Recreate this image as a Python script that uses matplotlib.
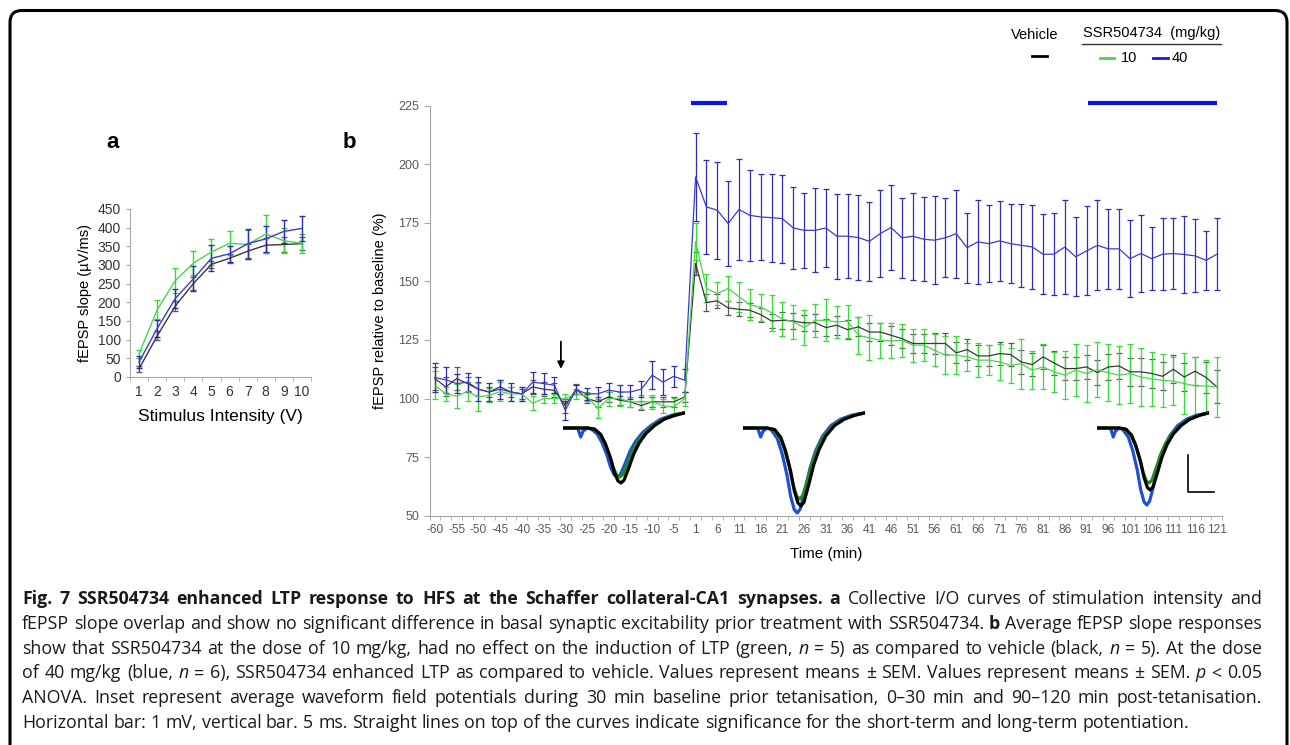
import numpy as np
import matplotlib
matplotlib.use('Agg')
import matplotlib.pyplot as plt
from matplotlib.patches import FancyBboxPatch

W, H = 1290, 745

# ---- panel a: input/output curves ----
io_volts = ['1', '2', '3', '4', '5', '6', '7', '8', '9', '10']
io_veh = [22, 110, 190, 250, 302, 318, 337, 353, 355, 357]
io_veh_sem = [8, 12, 13, 18, 10, 12, 18, 20, 20, 18]
io_10 = [62, 180, 258, 305, 335, 358, 355, 383, 365, 358]
io_10_sem = [10, 25, 33, 33, 35, 32, 38, 50, 33, 25]
io_40 = [40, 130, 210, 263, 318, 330, 357, 370, 390, 398]
io_40_sem = [17, 22, 25, 33, 35, 22, 40, 35, 30, 33]

# ---- panel b: LTP time course (one category every 2.5 min) ----
time_labels = ['-60', '-55', '-50', '-45', '-40', '-35', '-30', '-25', '-20', '-15', '-10', '-5',
               '1', '6', '11', '16', '21', '26', '31', '36', '41', '46', '51', '56', '61', '66',
               '71', '76', '81', '86', '91', '96', '101', '106', '111', '116', '121']

veh_mean = [108.5, 105, 108.5, 106.4, 104, 102.8, 105, 102.8, 102, 105, 104, 103.5,
            97, 104, 100, 98.6, 100.7, 99.3, 98.6, 97, 98.6, 98.6, 98.6, 100.7,
            157.6, 141, 141.7, 138.7, 138.1, 137.7, 135.8, 133.1, 133.4, 133.1, 132.3, 132.4,
            130.3, 131.3, 129.4, 130.6, 128.4, 128.4, 127, 125.6, 123.5, 123.5, 123.5, 123.5,
            119.5, 120.9, 118.2, 118.2, 119.2, 118.8, 115.6, 114.5, 117.8, 115.2, 112.8, 112.8,
            113.5, 111.1, 113.5, 113.9, 111.4, 111.4, 110.7, 109.5, 112.5, 109.2, 111.7, 109, 105]
veh_sem = [5, 4, 5, 3, 3, 2, 3, 2, 2, 3, 3, 3, 3, 2, 2, 2, 2, 2, 2, 2, 2, 2, 2, 2,
           5, 3.5, 3, 3, 3, 3, 3, 3, 3.5, 3.5, 3.5, 3.5, 3.5, 4, 4, 4, 4, 4, 4, 4, 4, 4,
           4.5, 4.5, 4.5, 4.5, 4.5, 4.5, 5, 5, 5, 5, 5, 5, 5, 5, 5, 5.5, 5.5, 5.5,
           6, 6, 6, 6, 6, 6, 6, 6.5, 7]

ssr10_mean = [105.7, 102, 101, 103, 100.7, 101.4, 103, 102, 102, 98, 100, 100,
              100, 102, 101, 95.7, 100, 100, 98.6, 98.6, 98.6, 97, 96.4, 100,
              167, 147, 144.8, 147, 143.4, 140, 139, 136.6, 134, 132.7, 130.3, 133.4,
              133.4, 132.7, 133, 127, 125.9, 124.9, 124.6, 124.9, 122.8, 122.8, 120.6, 118.5,
              118.5, 117.8, 116.4, 116.4, 115.6, 114.2, 114.9, 112.1, 113.5, 111.4, 110, 112.1,
              110.7, 112.4, 111, 110, 110.7, 109.2, 108.4, 107.8, 107.4, 106.4, 105.4, 105.4, 105]
ssr10_sem = [6, 3, 5, 4, 6, 3, 4, 3, 3, 3, 2, 2, 2, 2, 2, 4, 3, 3, 2, 3, 3, 3, 4, 3,
             8, 6, 4.8, 5.5, 6.3, 6.6, 5.8, 7.6, 7.3, 7.1, 7.6, 7.1, 8.9, 6.8, 7.1, 7.8,
             9.6, 7.5, 7.5, 7.1, 7.1, 6.8, 6.8, 8.2, 8.2, 6, 7.1, 6.4, 7.5, 7.5, 10.7, 8.2,
             9.6, 8.5, 10.3, 11, 12.1, 11.9, 12.1, 12.4, 12.4, 12.3, 11.4, 11.4, 10.3, 13.2,
             12.4, 11, 12.8]

ssr40_mean = [109, 108, 106.4, 107, 104, 102.8, 104, 102.8, 102, 107, 106.4, 105.7,
              95, 103.8, 102, 102, 103.6, 102.8, 102.8, 104, 110, 107, 109.5, 107.8,
              194.6, 181.8, 180.4, 174.7, 180.7, 178.2, 177.5, 177.2, 176.8, 172.8, 171.8, 171.8,
              172.8, 169.3, 169.3, 168.7, 167.1, 170.4, 173, 168.6, 169.3, 168, 167.6, 168.6,
              170.4, 164.4, 166.9, 166.1, 167.3, 166.1, 165.4, 164.7, 161.6, 161.6, 164.7, 160.5,
              163, 165.4, 163.9, 163.9, 159.7, 161.9, 159.7, 161.6, 161.9, 161.5, 160.9, 159, 161.6]
ssr40_sem = [6, 5.5, 4, 4, 5, 4, 4, 4, 3, 4.5, 4.5, 3.5, 4, 2, 2.5, 3, 3, 3, 3, 3.5, 6, 5.5, 4.5, 5,
             18.8, 19.9, 20.7, 18, 21.5, 19.4, 18.4, 18.8, 18.8, 17.6, 15.9, 17.9, 16.6, 18.1,
             17.9, 18.1, 16.9, 18.5, 18, 17.1, 18.6, 17.9, 18.8, 16.9, 18.8, 14.9, 17.8, 16.5,
             17, 16.9, 17.6, 18.1, 17.1, 17.4, 20, 16.9, 19, 19.2, 17, 17.1, 16.5, 16.3, 13.4,
             15.4, 15.3, 16.5, 15.6, 12.6, 15.4]

# significance bars (category units) and arrow position
sig_spans = [(23.6, 26.9), (60.1, 72.0)]
arrow_cat = 11.6

# average waveforms (normalised: time 0..1, trough = -1)
wave_t = np.array([0, 0.2, 0.26, 0.31, 0.35, 0.39, 0.42, 0.45, 0.475, 0.5,
                   0.54, 0.58, 0.625, 0.68, 0.75, 0.83, 0.92, 1.0])
wave_v = np.array([0, 0, -0.02, -0.12, -0.3, -0.55, -0.8, -0.96, -1, -0.95,
                   -0.72, -0.47, -0.27, -0.1, 0.03, 0.11, 0.16, 0.19])
notch_t = [0, 0.12, 0.145, 0.165, 0.2]
notch_px = [0, 0, -9, -3, 0]
wave_depth = {'veh': [55, 78, 62], 'ssr10': [49, 71, 55], 'ssr40': [49, 85, 77]}
inset_left = [563, 743, 1097]
inset_width = [122, 122, 112]

c_black, c_green, c_blue = '#383838', '#47d847', '#3b3bcc'
c_black_err, c_green_err, c_blue_err = '#5a5a5a', '#35dc35', '#2d2db8'

plt.rcParams['font.family'] = ['Liberation Sans', 'DejaVu Sans']
fig = plt.figure(figsize=(W / 100, H / 100), dpi=100)


def fa(x0, y0, x1, y1):
    return [x0 / W, 1 - y1 / H, (x1 - x0) / W, (y1 - y0) / H]


# overlay in pixel coordinates for frame, legend, caption
ov = fig.add_axes([0, 0, 1, 1])
ov.set_xlim(0, W)
ov.set_ylim(H, 0)
ov.axis('off')
ov.add_patch(FancyBboxPatch((10, 10.5), 1277, 800, boxstyle='round,pad=0,rounding_size=12',
                            fc='none', ec='black', lw=2.2, clip_on=False))
ov.text(113, 143, 'a', fontsize=16, fontweight='bold', ha='center', va='center')
ov.text(349, 143, 'b', fontsize=16, fontweight='bold', ha='center', va='center')

# legend
ov.text(1035, 35, 'Vehicle', fontsize=10.5, ha='center', va='center')
ov.plot([1032, 1047], [56, 56], color='black', lw=2)
ov.text(1152, 33, 'SSR504734  (mg/kg)', fontsize=10.5, ha='center', va='center')
ov.plot([1082, 1221], [44, 44], color='#333333', lw=1)
ov.plot([1100, 1114], [58, 58], color=c_green, lw=2)
ov.text(1121, 58, '10', fontsize=10.5, ha='left', va='center')
ov.plot([1153, 1168], [58, 58], color='#1a1ad6', lw=2)
ov.text(1172, 58, '40', fontsize=10.5, ha='left', va='center')

# ---- panel a ----
axa = fig.add_axes(fa(130, 209, 311, 377))
xa = np.arange(1, len(io_volts) + 1)
for m, s, c, ce in [(io_veh, io_veh_sem, c_black, c_black_err),
                    (io_10, io_10_sem, c_green, c_green_err),
                    (io_40, io_40_sem, c_blue, c_blue_err)]:
    axa.errorbar(xa, m, yerr=s, color=c, ecolor=ce, lw=1, elinewidth=1, capsize=2.5, capthick=1)
axa.set_xlim(0.5, 10.5)
axa.set_ylim(0, 450)
axa.set_yticks(np.arange(0, 451, 50))
axa.set_xticks(xa)
axa.set_xticklabels(io_volts)
axa.set_xticks(np.arange(0.5, 10.6, 1), minor=True)
axa.tick_params(axis='x', which='major', length=0, labelsize=10, labelcolor='#333333', pad=6)
axa.tick_params(axis='x', which='minor', length=3, color='#a6a6a6')
axa.tick_params(axis='y', length=3, color='#a6a6a6', labelsize=10, labelcolor='#333333')
for sp in ['top', 'right']:
    axa.spines[sp].set_visible(False)
for sp in ['left', 'bottom']:
    axa.spines[sp].set_color('#a6a6a6')
axa.set_xlabel('Stimulus Intensity (V)', fontsize=12.5, labelpad=7)
axa.set_ylabel('fEPSP slope (µV/ms)', fontsize=10.5, labelpad=4)

# ---- panel b ----
axb = fig.add_axes(fa(429.5, 105.7, 1222.3, 515.7))
xb = np.arange(len(veh_mean))
for m, s, c, ce in [(veh_mean, veh_sem, c_black, c_black_err),
                    (ssr10_mean, ssr10_sem, c_green, c_green_err),
                    (ssr40_mean, ssr40_sem, c_blue, c_blue_err)]:
    axb.errorbar(xb, m, yerr=s, color=c, ecolor=ce, lw=0.9, elinewidth=0.9,
                 capsize=2.2, capthick=0.9)
axb.set_xlim(-0.5, len(veh_mean) - 0.5)
axb.set_ylim(50, 225)
axb.set_yticks(np.arange(50, 226, 25))
axb.set_xticks(xb[::2])
axb.set_xticklabels(time_labels)
axb.set_xticks(np.arange(-0.5, len(veh_mean), 1), minor=True)
axb.tick_params(axis='x', which='major', length=0, labelsize=8.6, labelcolor='#595959', pad=6)
axb.tick_params(axis='x', which='minor', length=3, color='#a6a6a6')
axb.tick_params(axis='y', length=4, color='#a6a6a6', labelsize=9, labelcolor='#595959')
for sp in ['top', 'right']:
    axb.spines[sp].set_visible(False)
for sp in ['left', 'bottom']:
    axb.spines[sp].set_color('#a6a6a6')
axb.set_xlabel('Time (min)', fontsize=11, labelpad=8)
axb.set_ylabel('fEPSP relative to baseline (%)', fontsize=10.5, labelpad=8)

for a, b in sig_spans:
    axb.plot([a, b], [226.1, 226.1], color='#0a14e6', lw=3, clip_on=False, solid_capstyle='butt')
axb.annotate('', xy=(arrow_cat, 111.5), xytext=(arrow_cat, 125.5),
             arrowprops=dict(arrowstyle='-|>', color='black', lw=1.3, mutation_scale=10))
# scale bar
axb.plot([69.3, 69.3, 71.7], [75.9, 60.1, 60.1], color='black', lw=1.2)

# waveform insets
for i in range(3):
    axw = fig.add_axes(fa(inset_left[i], 400, inset_left[i] + inset_width[i], 520))
    axw.set_xlim(0, 1)
    axw.set_ylim(-(520 - 428), 428 - 400)
    axw.axis('off')
    for key, col, shift in [('ssr40', '#1f4fd8', -0.03), ('ssr10', '#1e8c1e', -0.01),
                            ('veh', 'black', 0.0)]:
        t = wave_t.copy()
        t[1:-1] += shift
        amp = np.where(wave_v < 0, wave_v * wave_depth[key][i], wave_v * 80)
        if key == 'ssr40':
            keep = t > 0.2
            t = np.concatenate([notch_t, t[keep]])
            amp = np.concatenate([notch_px, amp[keep]])
        axw.plot(t, amp, color=col, lw=2.3, solid_joinstyle='round')

# ---- caption ----
renderer = fig.canvas.get_renderer()
cap_left, cap_right = 22, 1262
cap_lines = [
    [('Fig. 7 SSR504734 enhanced LTP response to HFS at the Schaffer collateral-CA1 synapses. a', 1, 0),
     ('Collective I/O curves of stimulation intensity and', 0, 0)],
    [('fEPSP slope overlap and show no significant difference in basal synaptic excitability prior treatment with SSR504734.', 0, 0),
     ('b', 1, 0), ('Average fEPSP slope responses', 0, 0)],
    [('show that SSR504734 at the dose of 10 mg/kg, had no effect on the induction of LTP (green,', 0, 0),
     ('n', 0, 1), ('= 5) as compared to vehicle (black,', 0, 0), ('n', 0, 1), ('= 5). At the dose', 0, 0)],
    [('of 40 mg/kg (blue,', 0, 0), ('n', 0, 1),
     ('= 6), SSR504734 enhanced LTP as compared to vehicle. Values represent means ± SEM. Values represent means ± SEM.', 0, 0),
     ('p', 0, 1), ('< 0.05', 0, 0)],
    [('ANOVA. Inset represent average waveform field potentials during 30 min baseline prior tetanisation, 0–30 min and 90–120 min post-tetanisation.', 0, 0)],
    [('Horizontal bar: 1 mV, vertical bar. 5 ms. Straight lines on top of the curves indicate significance for the short-term and long-term potentiation.', 0, 0)],
]


def make_words(runs, y, fs):
    arts = []
    for txt, bold, ital in runs:
        for w in txt.split():
            arts.append(ov.text(0, y, w, fontfamily=['Open Sans', 'DejaVu Sans'], fontsize=fs,
                                fontweight='bold' if bold else 'normal',
                                fontstyle='italic' if ital else 'normal',
                                va='baseline', ha='left', color='#1a1a1a'))
    widths = [t.get_window_extent(renderer).width for t in arts]
    return arts, widths


def space_width(fs):
    t1 = ov.text(0, 0, 'a a', fontfamily='Open Sans', fontsize=fs)
    t2 = ov.text(0, 0, 'aa', fontfamily='Open Sans', fontsize=fs)
    w = t1.get_window_extent(renderer).width - t2.get_window_extent(renderer).width
    t1.remove()
    t2.remove()
    return w


# pick the caption size so that every line fits its width with normal spacing
sp10 = space_width(10)
scales = []
for k, runs in enumerate(cap_lines):
    arts, widths = make_words(runs, 0, 10)
    natural = sum(widths) + sp10 * (len(widths) - 1)
    target = 1225 if k == len(cap_lines) - 1 else cap_right - cap_left
    scales.append(target / natural)
    for t in arts:
        t.remove()
cap_fs = 10 * min(scales)
sp_w = space_width(cap_fs)

for k, runs in enumerate(cap_lines):
    y = 604 + 24.8 * k
    arts, widths = make_words(runs, y, cap_fs)
    last = k == len(cap_lines) - 1
    gap = sp_w if last else (cap_right - cap_left - sum(widths)) / (len(arts) - 1)
    x = cap_left
    for t, wd in zip(arts, widths):
        t.set_x(x)
        x += wd + gap

fig.savefig('out.png', dpi=100)
